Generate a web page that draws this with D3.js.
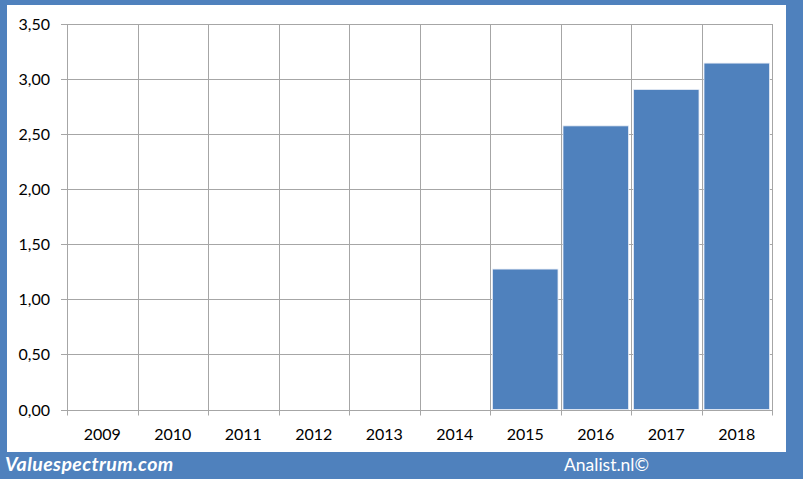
<!DOCTYPE html>
<html><head><meta charset="utf-8">
<script src="https://cdn.jsdelivr.net/npm/d3@7"></script>
<style>html,body{margin:0;padding:0;background:#fff}svg{display:block}</style>
</head><body><svg id="c" width="803" height="479"></svg>
<script>
const categories = ["2009","2010","2011","2012","2013","2014","2015","2016","2017","2018"];
const values = [null,null,null,null,null,null,1.275,2.575,2.905,3.145];
const yTicks = [0,0.5,1,1.5,2,2.5,3,3.5];
const siteLabel = "Valuespectrum.com";
const sourceLabel = "Analist.nl©";

const W = 803, H = 479;
const svg = d3.select("#c");
const blue = "#4f81bd";
const font = "Lato, 'Open Sans', sans-serif";

svg.append("rect").attr("width", W).attr("height", H).attr("fill", blue);
svg.append("rect").attr("x", 7).attr("y", 5).attr("width", 779).attr("height", 447).attr("fill", "#fff");

const m = {l: 67, r: 772, t: 24, b: 409.5};
const x = d3.scaleBand().domain(categories).range([m.l, m.r]).paddingInner(0).paddingOuter(0);
const y = d3.scaleLinear().domain([0, 3.5]).range([m.b, m.t]);
const fmt = d => d3.format(".2f")(d).replace(".", ",");

const g = svg.append("g");
g.selectAll(".hg").data(yTicks).join("line")
  .attr("x1", m.l - 6).attr("x2", m.r)
  .attr("y1", d => Math.round(y(d)) + 0.5).attr("y2", d => Math.round(y(d)) + 0.5)
  .attr("stroke", "#a6a6a6").attr("stroke-width", 1);
const bounds = categories.map(c => x(c)).concat([m.r]);
g.selectAll(".vg").data(bounds).join("line")
  .attr("x1", d => Math.round(d) + 0.5).attr("x2", d => Math.round(d) + 0.5)
  .attr("y1", m.t).attr("y2", m.b + 6)
  .attr("stroke", "#a6a6a6").attr("stroke-width", 1);

const pad = 2.5;
g.selectAll(".bar").data(categories.map((c, i) => ({c, v: values[i]})).filter(d => d.v != null)).join("rect")
  .attr("x", d => x(d.c) + pad)
  .attr("width", x.bandwidth() - 2 * pad)
  .attr("y", d => y(d.v))
  .attr("height", d => y(0) - y(d.v))
  .attr("fill", blue).attr("stroke", "#e6ecf5").attr("stroke-width", 0.8);

g.selectAll(".yl").data(yTicks).join("text")
  .attr("x", 50).attr("y", d => y(d) + 6)
  .attr("text-anchor", "end").attr("font-family", font).attr("font-size", 16).attr("fill", "#000")
  .text(fmt);
g.selectAll(".xl").data(categories).join("text")
  .attr("x", d => x(d) + x.bandwidth() / 2).attr("y", 439.5)
  .attr("text-anchor", "middle").attr("font-family", font).attr("font-size", 16).attr("fill", "#000")
  .text(d => d);

svg.append("text").attr("x", 5).attr("y", 470.5)
  .attr("font-family", font).attr("font-size", 19.5).attr("font-weight", "bold").attr("font-style", "italic")
  .attr("letter-spacing", 0.4)
  .attr("fill", "#fff").text(siteLabel);
svg.append("text").attr("x", 564).attr("y", 470.5)
  .attr("font-family", font).attr("font-size", 17.5).attr("fill", "#fff").text(sourceLabel);
</script></body></html>
